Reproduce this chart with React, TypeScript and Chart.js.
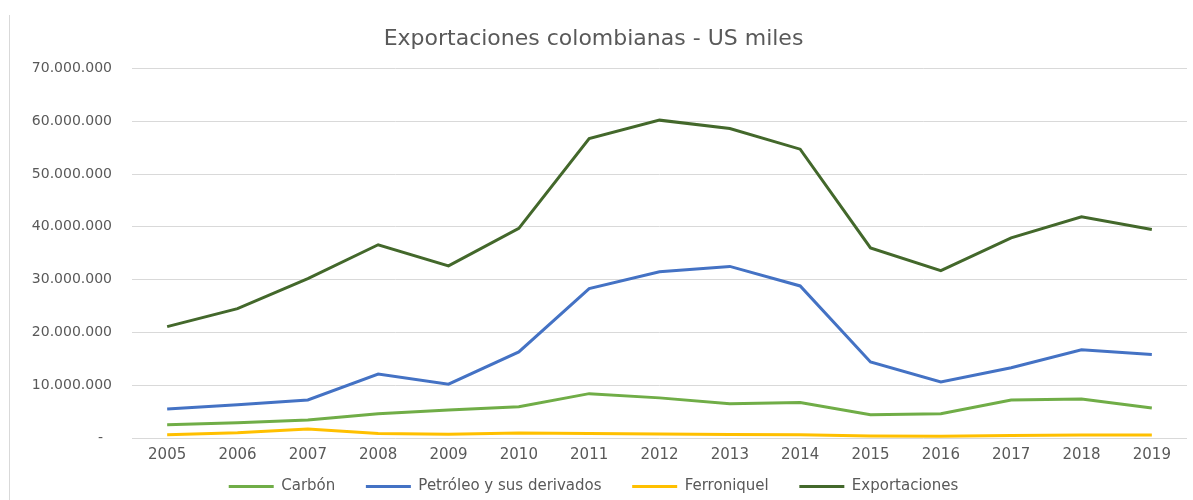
import React, { useEffect, useRef } from "react";
import { Chart, registerables } from "chart.js";

Chart.register(...registerables);

const years = ["2005","2006","2007","2008","2009","2010","2011","2012","2013","2014","2015","2016","2017","2018","2019"];
const carbon = [2500000,2900000,3400000,4600000,5300000,5900000,8400000,7600000,6500000,6700000,4400000,4600000,7200000,7400000,5700000];
const petroleo = [5500000,6300000,7200000,12100000,10200000,16300000,28300000,31500000,32500000,28800000,14400000,10600000,13300000,16700000,15800000];
const ferroniquel = [600000,1000000,1700000,860000,700000,970000,850000,780000,680000,620000,400000,350000,450000,560000,560000];
const exportaciones = [21100000,24500000,30200000,36600000,32600000,39700000,56700000,60200000,58600000,54700000,36000000,31700000,37900000,41900000,39500000];

const FONT = "'DejaVu Sans', sans-serif";
const TXT = "#595959";

function fmt(v: number): string {
  if (v === 0) return "-  ";
  return String(Math.round(v)).replace(/\B(?=(\d{3})+(?!\d))/g, ".");
}

export default function App() {
  const ref = useRef<HTMLCanvasElement | null>(null);
  useEffect(() => {
    if (!ref.current) return;
    const mk = (label: string, data: number[], color: string) => ({
      label,
      data,
      borderColor: color,
      backgroundColor: color,
      borderWidth: 3,
      pointRadius: 0,
      pointStyle: "line" as const,
      tension: 0,
      fill: false,
    });
    const chart = new Chart(ref.current, {
      type: "line",
      data: {
        labels: years,
        datasets: [
          mk("Carbón", carbon, "#70AD47"),
          mk("Petróleo y sus derivados", petroleo, "#4472C4"),
          mk("Ferroniquel", ferroniquel, "#FFC000"),
          mk("Exportaciones", exportaciones, "#43682B"),
        ],
      },
      options: {
        animation: false,
        responsive: false,
        maintainAspectRatio: false,
        layout: { padding: { left: 0, right: 6, top: 0, bottom: -4 } },
        plugins: {
          title: {
            display: true,
            text: "Exportaciones colombianas - US miles",
            color: TXT,
            font: { family: FONT, size: 22, weight: "normal" },
            padding: { top: 26, bottom: 16 },
          },
          legend: {
            position: "bottom",
            labels: {
              usePointStyle: true,
              pointStyleWidth: 45,
              boxHeight: 10,
              color: TXT,
              font: { family: FONT, size: 15 },
              padding: 2,
              generateLabels: (c: any) => {
                const items = Chart.defaults.plugins.legend.labels.generateLabels(c);
                return items.map((it: any, i: number) => ({
                  ...it,
                  text: i < items.length - 1 ? it.text + "      " : it.text,
                }));
              },
            },
          },
          tooltip: { enabled: false },
        },
        scales: {
          x: {
            offset: true,
            grid: { display: false },
            border: { display: false },
            afterFit: (s: any) => { s.height = 39; },
            ticks: { color: TXT, font: { family: FONT, size: 15 }, padding: 0, maxRotation: 0 },
          },
          y: {
            min: 0,
            max: 70000000,
            afterFit: (s: any) => { s.width = 132; },
            grid: { color: "#d9d9d9", drawTicks: false, lineWidth: 1 },
            border: { display: false },
            ticks: {
              stepSize: 10000000,
              color: TXT,
              font: { family: FONT, size: 14 },
              padding: 20,
              callback: (v: any) => fmt(Number(v)),
            },
          },
        },
      },
    });
    return () => chart.destroy();
  }, []);
  return (
    <div style={{ position: "absolute", left: 0, top: 0, width: 1193, height: 500, background: "#fff" }}>
      <div style={{ position: "absolute", left: 9, top: 15, width: 0, height: 485, borderLeft: "1px solid #d9d9d9" }} />
      <canvas ref={ref} width={1193} height={500} style={{ position: "absolute", left: 0, top: 0 }} />
    </div>
  );
}
